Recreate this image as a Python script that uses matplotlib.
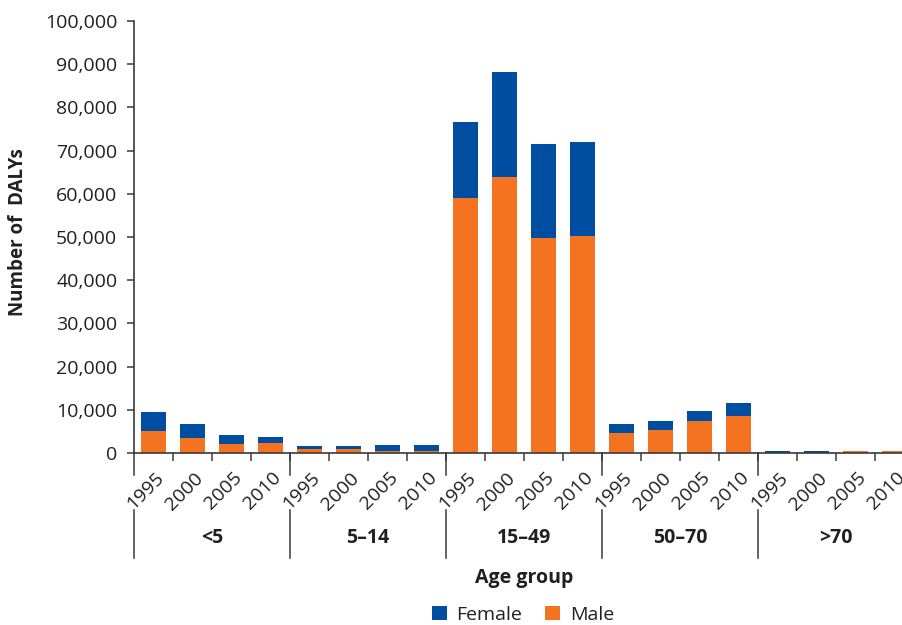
import numpy as np
import matplotlib.pyplot as plt
from matplotlib.ticker import FuncFormatter
from matplotlib.transforms import blended_transform_factory, ScaledTranslation

# Data
age_groups = ['<5', '5–14', '15–49', '50–70', '>70']
years = ['1995', '2000', '2005', '2010']
male = [5100, 3500, 2100, 2400,
        1000, 1000, 500, 500,
        59000, 63900, 49800, 50200,
        4700, 5400, 7300, 8500,
        0, 0, 500, 500]
female = [4400, 3300, 2100, 1400,
          700, 700, 1400, 1400,
          17600, 24300, 21700, 21800,
          2100, 2100, 2500, 3100,
          500, 500, 0, 0]

BLUE = '#004ea1'
ORANGE = '#f47320'
TXT = '#231f20'

plt.rcParams['font.family'] = ['Open Sans', 'DejaVu Sans']
plt.rcParams['text.color'] = TXT

W, H = 903, 625
fig = plt.figure(figsize=(W / 100, H / 100), dpi=100)
# axes spans past the right edge, like the reference (last label is clipped)
ax = fig.add_axes([134 / W, 1 - 453 / H, 780 / W, 432 / H])

x = np.arange(len(male))
ax.bar(x, male, width=0.62, color=ORANGE, label='Male', zorder=2)
ax.bar(x, female, width=0.62, bottom=male, color=BLUE, label='Female', zorder=2)

ax.set_xlim(-0.5, len(male) - 0.5)
ax.set_ylim(0, 100000)
ax.set_yticks(np.arange(0, 100001, 10000))
ax.yaxis.set_major_formatter(FuncFormatter(lambda v, p: f'{int(v):,}'))

for s in ['top', 'right']:
    ax.spines[s].set_visible(False)
for s in ['left', 'bottom']:
    ax.spines[s].set_color('#3a3a3a')
    ax.spines[s].set_linewidth(1.2)

ax.tick_params(axis='y', length=5, width=1.1, color='#3a3a3a', pad=7,
               labelsize=14, labelcolor=TXT)

# year labels under each bar
ax.set_xticks(x)
ax.set_xticklabels(years * len(age_groups), rotation=45, ha='right',
                   va='center', rotation_mode='anchor', fontsize=14, color=TXT)
ax.tick_params(axis='x', which='major', length=0, pad=16)
shift = ScaledTranslation(8 / 100, 0, fig.dpi_scale_trans)
for lbl in ax.get_xticklabels():
    lbl.set_transform(lbl.get_transform() + shift)
# small ticks between bars
ax.set_xticks(np.arange(0.5, len(male) - 1, 1.0), minor=True)
ax.tick_params(axis='x', which='minor', length=6, width=1.1, color='#3a3a3a')

# group separators and group names
tr = blended_transform_factory(ax.transData, ax.transAxes)
for b in np.arange(-0.5, len(male), 4):
    ax.plot([b, b], [0, -22 / 432], transform=tr, color='#3a3a3a', lw=1.1, clip_on=False)
    ax.plot([b, b], [-57 / 432, -105 / 432], transform=tr, color='#3a3a3a', lw=1.1, clip_on=False)
for i, g in enumerate(age_groups):
    ax.text(i * 4 + 1.5, -85 / 432, g, transform=tr, ha='center', va='center',
            fontsize=14, fontweight='bold', color=TXT)

fig.text(18 / W, 1 - 232 / H, 'Number of  DALYs', rotation=90, ha='center', va='center',
         fontsize=13.5, fontweight='bold', color=TXT)
fig.text(524 / W, 1 - 578 / H, 'Age group', ha='center', va='center',
         fontsize=14, fontweight='bold', color=TXT)

handles, labels = ax.get_legend_handles_labels()
fig.legend(handles[::-1], labels[::-1], loc='center', bbox_to_anchor=(523 / W, 1 - 615 / H),
           ncol=2, frameon=False, fontsize=14, handlelength=0.75, handleheight=0.75,
           handletextpad=0.5, columnspacing=1.2)

fig.savefig('out.png', dpi=100)
